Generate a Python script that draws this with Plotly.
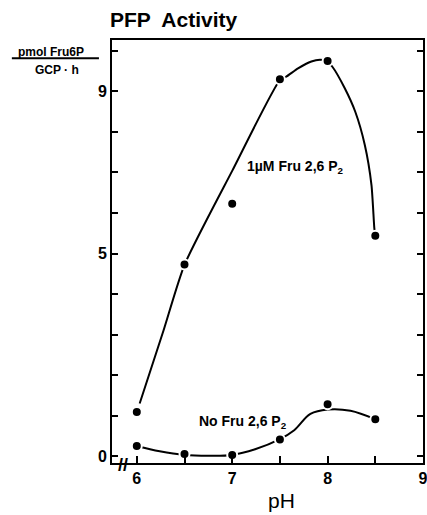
import plotly.graph_objects as go

# measured points
ph = [6.0, 6.5, 7.0, 7.5, 8.0, 8.5]
with_fru26p2 = [1.09, 4.73, 6.23, 9.30, 9.75, 5.44]
no_fru26p2 = [0.25, 0.05, 0.03, 0.41, 1.28, 0.91]

# hand-drawn fitted curves
fit1_ph = [6.03, 6.28, 6.5, 7.0, 7.5, 7.57, 7.69, 7.83, 7.92, 7.99,
           8.05, 8.18, 8.29, 8.39, 8.46, 8.49, 8.5]
fit1_val = [1.30, 3.10, 4.72, 7.04, 9.28, 9.37, 9.57, 9.74, 9.78, 9.75,
            9.61, 9.08, 8.50, 7.68, 6.69, 5.62, 5.44]
fit2_ph = [6.0, 6.24, 6.5, 6.75, 7.0, 7.24, 7.5, 7.65, 7.82, 8.0, 8.24, 8.5]
fit2_val = [0.25, 0.12, 0.03, 0.01, 0.03, 0.17, 0.42, 0.64, 1.04, 1.15, 1.12, 0.91]

x_tickvals = [6, 6.5, 7, 7.5, 8, 8.5, 9]
x_ticktext = ["6", "", "7", "", "8", "", "9"]
y_tickvals = list(range(0, 11))
y_ticktext = ["0", "", "", "", "", "5", "", "", "", "9", ""]

FONT = "Liberation Sans, Arial, sans-serif"

fig = go.Figure()
fig.add_trace(go.Scatter(x=fit1_ph, y=fit1_val, mode="lines",
                         line=dict(color="black", width=2, shape="spline", smoothing=0.6),
                         hoverinfo="skip", showlegend=False))
fig.add_trace(go.Scatter(x=fit2_ph, y=fit2_val, mode="lines",
                         line=dict(color="black", width=2, shape="spline", smoothing=1.0),
                         hoverinfo="skip", showlegend=False))
fig.add_trace(go.Scatter(x=ph, y=with_fru26p2, mode="markers",
                         marker=dict(color="black", size=10,
                                     line=dict(color="white", width=2)),
                         showlegend=False))
fig.add_trace(go.Scatter(x=ph, y=no_fru26p2, mode="markers",
                         marker=dict(color="black", size=10,
                                     line=dict(color="white", width=2)),
                         showlegend=False))

fig.update_layout(
    width=427, height=515, autosize=False,
    margin=dict(l=112, r=4, t=40, b=52),
    paper_bgcolor="white", plot_bgcolor="white",
    font=dict(family=FONT, color="black", size=14),
    showlegend=False,
    xaxis=dict(range=[5.74, 9.0], tickvals=x_tickvals, ticktext=x_ticktext,
               ticks="inside", ticklen=7, tickwidth=2, tickcolor="black",
               showline=True, linecolor="black", linewidth=2, mirror=True,
               showgrid=False, zeroline=False, automargin=False,
               ticklabeloverflow="allow",
               tickfont=dict(family=FONT, size=16, color="black", weight="bold")),
    yaxis=dict(range=[-0.17, 10.27], tickvals=y_tickvals, ticktext=y_ticktext,
               ticks="inside", ticklen=6, tickwidth=2, tickcolor="black",
               showline=True, linecolor="black", linewidth=2, mirror="ticks",
               showgrid=False, zeroline=False, automargin=False,
               tickfont=dict(family=FONT, size=16, color="black", weight="bold")),
)

annotations = [
    dict(text="<b>PFP  Activity</b>", xref="paper", yref="paper", x=-0.012, y=1.048,
         xanchor="left", yanchor="middle", showarrow=False,
         font=dict(family=FONT, size=21, color="black")),
    dict(text="<b>pmol Fru6P</b>", xref="paper", yref="paper", x=-0.196, y=0.972,
         xanchor="center", yanchor="middle", showarrow=False,
         font=dict(family=FONT, size=12, color="black")),
    dict(text="<b>GCP · h</b>", xref="paper", yref="paper", x=-0.177, y=0.928,
         xanchor="center", yanchor="middle", showarrow=False,
         font=dict(family=FONT, size=12, color="black")),
    dict(text="pH", xref="paper", yref="paper", x=0.545, y=-0.088,
         xanchor="center", yanchor="middle", showarrow=False,
         font=dict(family=FONT, size=21, color="black")),
    dict(text="<b>1µM Fru 2,6 P<sub>2</sub></b>", x=7.66, y=7.14, xref="x", yref="y",
         showarrow=False, xanchor="center", yanchor="middle",
         font=dict(family=FONT, size=14, color="black")),
    dict(text="<b>No Fru 2,6 P<sub>2</sub></b>", x=7.11, y=0.85, xref="x", yref="y",
         showarrow=False, xanchor="center", yanchor="middle",
         font=dict(family=FONT, size=14, color="black")),
    dict(text="<b>//</b>", xref="paper", yref="paper", x=0.035, y=-0.005,
         xanchor="center", yanchor="middle", showarrow=False,
         font=dict(family=FONT, size=18, color="black")),
]
fig.update_layout(annotations=annotations)

# fraction bar of the y-axis unit label
fig.add_shape(type="line", xref="paper", yref="paper",
              x0=-0.322, x1=-0.042, y0=0.957, y1=0.957,
              line=dict(color="black", width=2))

fig.write_html(
    "out.html",
    config={"displayModeBar": False, "responsive": False},
    post_script="document.body.style.margin='0';document.body.style.overflow='hidden';",
)
